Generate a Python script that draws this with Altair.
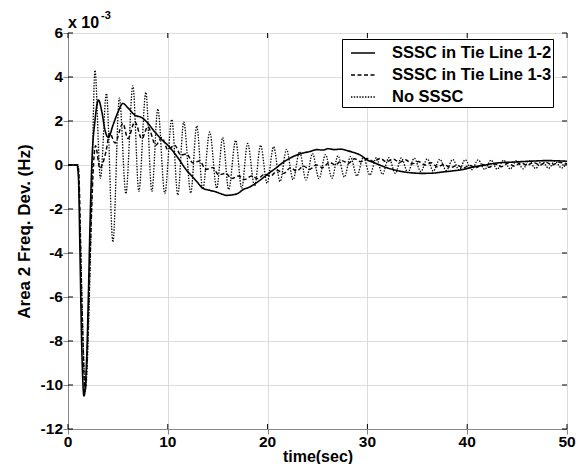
import altair as alt
import pandas as pd

series_names = ["SSSC in Tie Line 1-2", "SSSC in Tie Line 1-3", "No SSSC"]

# SSSC in Tie Line 1-2 (solid)
t_12 = [0, 0.9, 1.05, 1.2, 1.37, 1.6, 1.87, 2.05, 2.2, 2.4, 2.7, 3.05, 3.4, 3.7, 4.05,
        4.5, 5.0, 5.5, 6.0, 6.7, 7.4, 8.0, 8.7, 9.4, 10.0, 10.9, 11.9, 12.4, 12.9, 13.5,
        14.2, 14.8, 15.3, 15.9, 16.4, 17.0, 17.5, 18.2, 18.9, 19.5, 20.2, 20.8, 21.5, 22.2,
        22.9, 23.6, 24.3, 24.9, 25.5, 26.1, 26.7, 27.3, 28.0, 28.7, 29.3, 29.9, 30.7, 31.5,
        32.5, 33.5, 34.5, 35.5, 36.5, 37.5, 38.5, 39.5, 40.5, 41.8, 42.9, 44.5, 46.2, 48.0, 50.0]
v_12 = [0, 0, -0.6, -4.0, -8.1, -10.5, -8.8, -5.8, -2.8, 0.2, 2.0, 2.95, 2.4, 1.6, 1.25,
        1.8, 2.4, 2.8, 2.6, 2.27, 2.15, 1.9, 1.5, 1.15, 0.9, 0.4, -0.25, -0.5, -0.75, -1.05,
        -1.15, -1.22, -1.3, -1.38, -1.36, -1.3, -1.13, -1.0, -0.8, -0.6, -0.35, -0.15, 0.1, 0.3,
        0.45, 0.55, 0.62, 0.7, 0.68, 0.74, 0.7, 0.72, 0.65, 0.56, 0.45, 0.25, 0.1, -0.05,
        -0.2, -0.3, -0.36, -0.38, -0.37, -0.32, -0.27, -0.21, -0.1, 0.0, 0.09, 0.13, 0.17, 0.2, 0.17]

# SSSC in Tie Line 1-3 (dashed)
t_13 = [0, 1.0, 1.15, 1.3, 1.5, 1.7, 1.9, 2.1, 2.3, 2.5, 2.75, 3.2, 3.5, 3.8, 4.2,
        4.7, 5.5, 6.0, 6.7, 7.4, 8.0, 8.8, 9.4, 10.0, 10.7, 11.3, 11.9, 12.5, 13.2, 13.8,
        14.5, 15.1, 15.8, 16.4, 17.1, 17.7, 18.4, 19.0, 19.7, 20.3, 21.0, 21.6, 22.3, 22.9,
        23.6, 24.2, 24.9, 25.5, 26.2, 26.8, 27.4, 28.1, 28.7, 29.3, 30.0, 30.6, 31.3, 31.9,
        32.6, 33.2, 33.8, 34.5, 35.1, 35.8, 36.4, 37.0, 37.7, 38.3, 39.0, 39.6, 40.2, 40.9,
        41.5, 42.2, 42.8, 43.4, 44.1, 44.7, 45.4, 46.0, 46.6, 47.3, 47.9, 48.5, 49.2, 50.0]
v_13 = [0, 0, -1.2, -4.5, -8.0, -10.3, -9.0, -6.0, -3.0, -0.5, 0.88, -0.15, 0.1, 0.6, 1.45,
        1.0, 1.89, 1.2, 1.96, 1.2, 1.74, 0.9, 1.25, 0.7, 0.9, 0.45, 0.5, 0.1, 0.18, -0.2,
        -0.12, -0.45, -0.38, -0.62, -0.5, -0.66, -0.5, -0.62, -0.42, -0.5, -0.25, -0.38, -0.12, -0.28,
        -0.05, -0.2, 0.0, -0.12, 0.12, 0.0, 0.2, 0.08, 0.28, 0.15, 0.3, 0.16, 0.3, 0.14,
        0.27, 0.12, 0.24, 0.06, 0.16, 0.0, 0.1, -0.08, 0.02, -0.12, -0.02, -0.14, -0.02, -0.12,
        0.02, -0.1, 0.05, -0.08, 0.08, -0.05, 0.1, -0.02, 0.12, 0.0, 0.12, 0.0, 0.12, 0.05]

# No SSSC (dotted)
t_no = [0, 1.0, 1.2, 1.45, 1.75, 2.05, 2.35, 2.7, 3.25, 3.85, 4.5, 5.15, 5.8, 6.5, 7.1,
        7.8, 8.4, 9.0, 9.7, 10.4, 11.0, 11.6, 12.3, 12.9, 13.5, 14.2, 14.9, 15.5, 16.1, 16.8,
        17.4, 18.0, 18.7, 19.3, 19.95, 20.6, 21.25, 21.9, 22.55, 23.2, 23.85, 24.5, 25.15, 25.8,
        26.45, 27.05, 27.7, 28.3, 28.95, 29.6, 30.25, 30.9, 31.5, 32.15, 32.8, 33.4, 34.05, 34.7,
        35.35, 36.0, 36.6, 37.25, 37.9, 38.55, 39.2, 39.8, 40.45, 41.1, 41.75, 42.4, 43.0, 43.65,
        44.3, 44.95, 45.6, 46.2, 46.85, 47.5, 48.15, 48.8, 49.45, 50.0]
v_no = [0, 0, -2.5, -7.0, -10.2, -7.5, -2.0, 4.3, -0.6, 3.25, -3.5, 3.05, -1.3, 3.6, -1.2,
        3.3, -1.2, 2.55, -1.3, 2.07, -1.36, 1.96, -1.28, 1.78, -1.1, 1.5, -1.06, 1.25, -1.12, 1.12,
        -1.06, 0.98, -0.96, 0.9, -0.83, 0.83, -0.75, 0.71, -0.67, 0.6, -0.68, 0.52, -0.62, 0.47,
        -0.6, 0.42, -0.55, 0.38, -0.5, 0.35, -0.46, 0.33, -0.42, 0.33, -0.38, 0.32, -0.34, 0.31,
        -0.3, 0.28, -0.28, 0.26, -0.25, 0.25, -0.23, 0.24, -0.21, 0.23, -0.2, 0.22, -0.19, 0.22,
        -0.18, 0.2, -0.17, 0.2, -0.16, 0.19, -0.15, 0.18, -0.14, 0.1]

x_ticks = [0, 10, 20, 30, 40, 50]
x_tick_labels = ["0", "10", "20", "30", "40", "50"]
y_ticks = [-12, -10, -8, -6, -4, -2, 0, 2, 4, 6]
y_tick_labels = ["-12", "-10", "-8", "-6", "-4", "-2", "0", "2", "4", "6"]

rows = []
for name, ts, vs in zip(series_names, [t_12, t_13, t_no], [v_12, v_13, v_no]):
    for t, v in zip(ts, vs):
        rows.append({"t": t, "v": v, "series": name})
df = pd.DataFrame(rows)

W, H = 499, 396
FONT = "Liberation Sans"
TICK = 5

x_scale = alt.Scale(domain=[0, 50], nice=False, zero=False)
y_scale = alt.Scale(domain=[-12, 6], nice=False, zero=False)

x_axis = alt.Axis(values=x_ticks, labels=False, title="time(sec)",
                  titleFontSize=16, titleFontWeight="bold", titleFont=FONT,
                  titleColor="black", titleBaseline="alphabetic", titleY=32)
y_axis = alt.Axis(values=y_ticks, labels=False, title="Area 2 Freq. Dev. (Hz)",
                  titlePadding=29, titleFontSize=17, titleFontWeight="bold",
                  titleFont=FONT, titleColor="black")

lines = alt.Chart(df).mark_line(interpolate="monotone", clip=True, color="black").encode(
    x=alt.X("t:Q", scale=x_scale, axis=x_axis),
    y=alt.Y("v:Q", scale=y_scale, axis=y_axis),
    strokeDash=alt.StrokeDash(
        "series:N",
        scale=alt.Scale(domain=series_names, range=[[1, 0], [4, 2.5], [1.4, 1.4]]),
        legend=alt.Legend(
            title=None, orient="none", legendX=274, legendY=6, direction="vertical",
            strokeColor="black", fillColor="white", padding=1, cornerRadius=0,
            symbolType="stroke", symbolSize=576, symbolStrokeWidth=1.4, symbolOffset=7,
            symbolStrokeColor="black", labelFont=FONT, labelFontSize=16.5,
            labelFontWeight="bold", labelColor="black", labelOffset=16, rowPadding=-8,
            labelLimit=400, labelExpr="datum.label + '\u00a0\u00a0'",
        ),
    ),
    strokeWidth=alt.StrokeWidth(
        "series:N", scale=alt.Scale(domain=series_names, range=[1.6, 1.3, 1.5]), legend=None
    ),
)

xt = pd.DataFrame({"t": x_ticks, "lab": x_tick_labels})
yt = pd.DataFrame({"v": y_ticks, "lab": y_tick_labels})

bottom_ticks = alt.Chart(xt).mark_rule(color="black", strokeWidth=1).encode(
    x=alt.X("t:Q", scale=x_scale, axis=x_axis), y=alt.value(H), y2=alt.value(H - TICK))
top_ticks = alt.Chart(xt).mark_rule(color="black", strokeWidth=1).encode(
    x=alt.X("t:Q", scale=x_scale, axis=x_axis), y=alt.value(0), y2=alt.value(TICK))
left_ticks = alt.Chart(yt).mark_rule(color="black", strokeWidth=1).encode(
    y=alt.Y("v:Q", scale=y_scale, axis=y_axis), x=alt.value(0), x2=alt.value(TICK))
right_ticks = alt.Chart(yt).mark_rule(color="black", strokeWidth=1).encode(
    y=alt.Y("v:Q", scale=y_scale, axis=y_axis), x=alt.value(W - TICK), x2=alt.value(W))

x_labels = alt.Chart(xt).mark_text(align="center", baseline="top", font=FONT, fontWeight="bold",
                                   fontSize=15.5, color="black").encode(
    x=alt.X("t:Q", scale=x_scale, axis=x_axis), y=alt.value(H + 6), text="lab:N")
y_labels = alt.Chart(yt).mark_text(align="right", baseline="middle", font=FONT, fontWeight="bold",
                                   fontSize=15.5, color="black").encode(
    y=alt.Y("v:Q", scale=y_scale, axis=y_axis), x=alt.value(-5), text="lab:N")

ann = pd.DataFrame({"a": [0]})
exp_base = alt.Chart(ann).mark_text(align="left", baseline="alphabetic", font=FONT,
                                    fontWeight="bold", fontSize=16, color="black").encode(
    x=alt.value(0), y=alt.value(-5), text=alt.value("x 10"))
exp_sup = alt.Chart(ann).mark_text(align="left", baseline="alphabetic", font=FONT,
                                   fontWeight="bold", fontSize=11, color="black").encode(
    x=alt.value(33), y=alt.value(-14), text=alt.value("-3"))

chart = alt.layer(lines, bottom_ticks, top_ticks, left_ticks, right_ticks,
                  x_labels, y_labels, exp_base, exp_sup).properties(
    width=W, height=H,
    autosize=alt.AutoSizeParams(type="none"),
    padding={"left": 60, "top": 25, "right": 11, "bottom": 35},
).configure_view(
    stroke="black", strokeWidth=1.8
).configure_axis(
    domain=False, ticks=False, tickSize=0, grid=False,
).configure(background="white")

chart.save("out.html", embed_options={"renderer": "svg", "actions": False})
